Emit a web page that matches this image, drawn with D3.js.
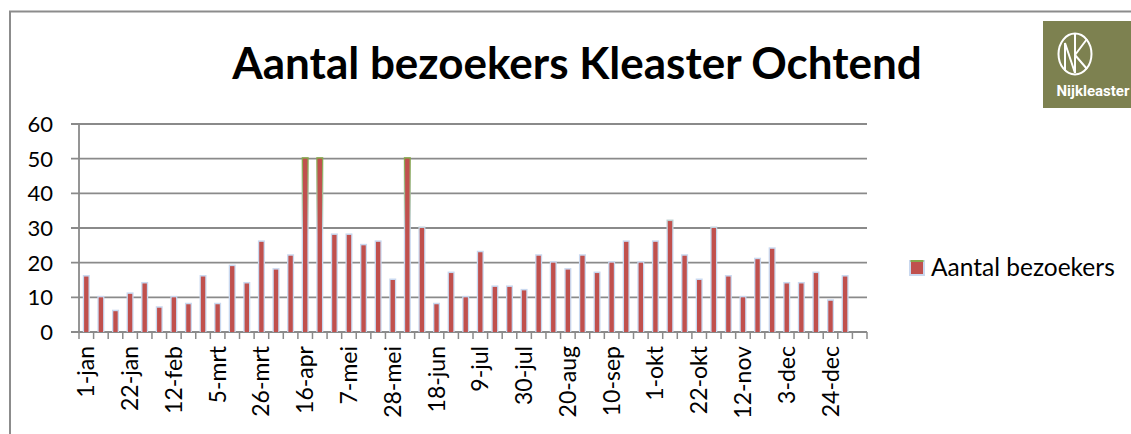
<!DOCTYPE html>
<html>
<head>
<meta charset="utf-8">
<script src="https://cdn.jsdelivr.net/npm/d3@7"></script>
<style>
  html, body { margin: 0; padding: 0; background: #fff; }
  svg { display: block; font-family: Lato, "Open Sans", sans-serif; }
</style>
</head>
<body>
<svg width="1131" height="434"></svg>
<script>
const weeks = [
  '1-jan', '8-jan', '15-jan', '22-jan', '29-jan', '5-feb', '12-feb', '19-feb', '26-feb',
  '5-mrt', '12-mrt', '19-mrt', '26-mrt', '2-apr', '9-apr', '16-apr', '23-apr', '30-apr',
  '7-mei', '14-mei', '21-mei', '28-mei', '4-jun', '11-jun', '18-jun', '25-jun', '2-jul',
  '9-jul', '16-jul', '23-jul', '30-jul', '6-aug', '13-aug', '20-aug', '27-aug', '3-sep',
  '10-sep', '17-sep', '24-sep', '1-okt', '8-okt', '15-okt', '22-okt', '29-okt', '5-nov',
  '12-nov', '19-nov', '26-nov', '3-dec', '10-dec', '17-dec', '24-dec', '31-dec', '7-jan'
]
const visitors = [
  16, 10, 6, 11, 14, 7, 10, 8, 16,
  8, 19, 14, 26, 18, 22, 50, 50, 28,
  28, 25, 26, 15, 50, 30, 8, 17, 10,
  23, 13, 13, 12, 22, 20, 18, 22, 17,
  20, 26, 20, 26, 32, 22, 15, 30, 16,
  10, 21, 24, 14, 14, 17, 9, 16, null
]
const shownLabels = [
  '1-jan', '22-jan', '12-feb', '5-mrt', '26-mrt', '16-apr', '7-mei', '28-mei', '18-jun',
  '9-jul', '30-jul', '20-aug', '10-sep', '1-okt', '22-okt', '12-nov', '3-dec', '24-dec'
]
const yTicks = [0, 10, 20, 30, 40, 50, 60]
const seriesName = 'Aantal bezoekers'
const title = 'Aantal bezoekers Kleaster Ochtend'

const red = '#c0504d'
const glowBlue = '#c9d8ef'
const edgeGreen = '#86a64c'
const gridGray = '#8a8a8a'

const svg = d3.select('svg')
const margin = { top: 124, right: 264, bottom: 102, left: 79 }
const width = +svg.attr('width') - margin.left - margin.right
const height = +svg.attr('height') - margin.top - margin.bottom

// chart frame (only left and top edges visible)
svg.append('path')
   .attr('d', 'M10,434 V11.5 H1131')
   .attr('fill', 'none')
   .attr('stroke', '#8c8c8c')
   .attr('stroke-width', 2)

svg.append('text')
   .attr('x', 577)
   .attr('y', 79)
   .attr('text-anchor', 'middle')
   .attr('font-weight', 'bold')
   .attr('font-size', 44)
   .attr('fill', '#000')
   .text(title)

const x = d3.scaleBand()
            .domain(weeks)
            .range([0, width])

const y = d3.scaleLinear()
            .domain([0, 60])
            .range([height, 0])

const g = svg.append('g')
             .attr('transform', `translate(${margin.left},${margin.top})`)

// bar edge colour fades from green (tall) to light blue (short)
const defs = svg.append('defs')
const grad = defs.append('linearGradient')
                 .attr('id', 'edge')
                 .attr('gradientUnits', 'userSpaceOnUse')
                 .attr('x1', 0).attr('x2', 0)
                 .attr('y1', y(50)).attr('y2', y(28))
grad.append('stop').attr('offset', 0).attr('stop-color', edgeGreen)
grad.append('stop').attr('offset', 1).attr('stop-color', glowBlue)

// gridlines + left ticks
g.selectAll('.grid')
 .data(yTicks)
 .enter().append('line')
 .attr('class', 'grid')
 .attr('x1', -8)
 .attr('x2', width)
 .attr('y1', d => y(d))
 .attr('y2', d => y(d))
 .attr('stroke', gridGray)
 .attr('stroke-width', 1.8)

g.append('line')
 .attr('x1', 0).attr('x2', 0)
 .attr('y1', y(60)).attr('y2', y(0))
 .attr('stroke', gridGray)
 .attr('stroke-width', 1.8)

g.selectAll('.ylab')
 .data(yTicks)
 .enter().append('text')
 .attr('class', 'ylab')
 .attr('x', -26)
 .attr('y', d => y(d))
 .attr('dy', '0.36em')
 .attr('text-anchor', 'end')
 .attr('font-size', 22)
 .attr('fill', '#000')
 .text(d => d)

// category boundary ticks
const bounds = weeks.map(w => x(w)).concat([width])
g.selectAll('.xtick')
 .data(bounds)
 .enter().append('line')
 .attr('class', 'xtick')
 .attr('x1', d => d).attr('x2', d => d)
 .attr('y1', y(0)).attr('y2', y(0) + 7)
 .attr('stroke', gridGray)
 .attr('stroke-width', 1.5)

// bars
const outerW = x.bandwidth() * 0.48
const innerW = x.bandwidth() * 0.3
const barData = weeks.map((w, i) => ({ week: w, value: visitors[i] }))
                     .filter(d => d.value != null)

g.selectAll('.glow')
 .data(barData)
 .enter().append('rect')
 .attr('class', 'glow')
 .attr('x', d => x(d.week) + (x.bandwidth() - outerW) / 2)
 .attr('width', outerW)
 .attr('y', d => y(d.value) - 1.5)
 .attr('height', d => y(0) - y(d.value) + 1.5)
 .attr('fill', 'url(#edge)')

g.selectAll('.bar')
 .data(barData)
 .enter().append('rect')
 .attr('class', 'bar')
 .attr('x', d => x(d.week) + (x.bandwidth() - innerW) / 2)
 .attr('width', innerW)
 .attr('y', d => y(d.value))
 .attr('height', d => y(0) - y(d.value))
 .attr('fill', red)

// x labels
g.selectAll('.xlab')
 .data(weeks.filter(w => shownLabels.includes(w)))
 .enter().append('text')
 .attr('class', 'xlab')
 .attr('transform', d => `translate(${x(d) + x.bandwidth() / 2 + 8},${y(0) + 14}) rotate(-90)`)
 .attr('text-anchor', 'end')
 .attr('font-size', 23)
 .attr('fill', '#000')
 .text(d => d)

// legend
const legend = svg.append('g')
                  .attr('transform', 'translate(909,260)')
legend.append('rect')
      .attr('width', 16).attr('height', 16)
      .attr('fill', glowBlue)
legend.append('rect')
      .attr('x', 1.5).attr('y', 0)
      .attr('width', 13).attr('height', 2)
      .attr('fill', edgeGreen)
legend.append('rect')
      .attr('x', 2).attr('y', 2)
      .attr('width', 12).attr('height', 12)
      .attr('fill', red)
legend.append('text')
      .attr('x', 22)
      .attr('y', 16)
      .attr('font-size', 24.5)
      .attr('fill', '#000')
      .text(seriesName)

// logo
const logo = svg.append('g')
                .attr('transform', 'translate(1043,21)')
logo.append('rect')
    .attr('width', 88).attr('height', 87)
    .attr('fill', '#7d8150')
logo.append('ellipse')
    .attr('cx', 32).attr('cy', 33)
    .attr('rx', 16.5).attr('ry', 20.5)
    .attr('fill', 'none')
    .attr('stroke', '#fff')
    .attr('stroke-width', 2)
logo.append('path')
    .attr('d', 'M22,50 V22 L32,52 M32,52 V13 M32,34 L44,18 M32,34 L44,48')
    .attr('fill', 'none')
    .attr('stroke', '#fff')
    .attr('stroke-width', 2)
logo.append('text')
    .attr('x', 50)
    .attr('y', 75)
    .attr('text-anchor', 'middle')
    .attr('font-family', '"Roboto", "Liberation Sans Narrow", sans-serif')
    .attr('font-weight', 'bold')
    .attr('font-size', 15)
    .attr('fill', '#fff')
    .text('Nijkleaster')
</script>
</body>
</html>
